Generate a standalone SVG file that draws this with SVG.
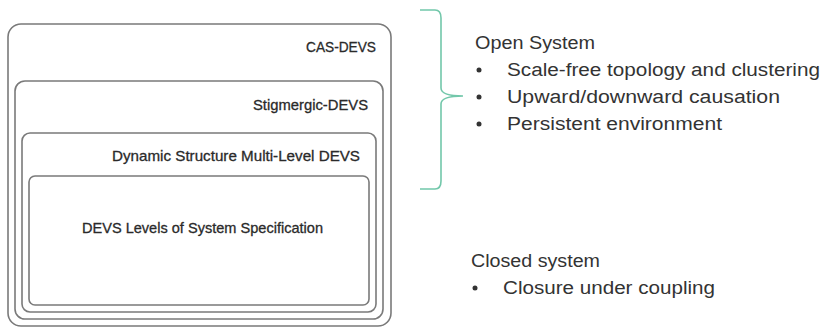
<svg xmlns="http://www.w3.org/2000/svg" width="826" height="330" viewBox="0 0 826 330">
<style>
.box{fill:none;stroke:#7a7a7a;stroke-width:1.6}
.lbl{font-family:"Liberation Sans",Arial,sans-serif;font-size:15px;fill:#2a2a2a;stroke:#2a2a2a;stroke-width:0.3}
.txt{font-family:"Liberation Sans",Arial,sans-serif;font-size:18px;fill:#333}
.brace{fill:none;stroke:#72c7aa;stroke-width:1.6}
.dot{fill:#333}
</style>
<rect width="826" height="330" fill="#fff"/>
<g id="cas-devs">
<rect class="box" x="8" y="24" width="383" height="302" rx="13"/>
<text class="lbl" x="306" y="52" textLength="70" lengthAdjust="spacingAndGlyphs">CAS-DEVS</text>
</g>
<g id="stigmergic-devs">
<rect class="box" x="15" y="81" width="368" height="238" rx="10"/>
<text class="lbl" x="253" y="110" textLength="115" lengthAdjust="spacingAndGlyphs">Stigmergic-DEVS</text>
</g>
<g id="dsml-devs">
<rect class="box" x="22" y="133" width="354" height="179" rx="8"/>
<text class="lbl" x="112" y="161" textLength="248" lengthAdjust="spacingAndGlyphs">Dynamic Structure Multi-Level DEVS</text>
</g>
<g id="devs-levels">
<rect class="box" x="29" y="176" width="340" height="129" rx="6"/>
<text class="lbl" x="82" y="233" textLength="241" lengthAdjust="spacingAndGlyphs">DEVS Levels of System Specification</text>
</g>
<g id="connectors">
<path class="brace" d="M420,10 L435,10 Q441,10 441,18 L441,88 Q441,96 463,96 Q441,96 441,104 L441,181 Q441,189 435,189 L420,189"/>
</g>
<g id="open-system">
<text class="txt" x="475" y="49" textLength="120" lengthAdjust="spacingAndGlyphs">Open System</text>
<circle class="dot" cx="479" cy="70" r="2.5"/>
<text class="txt" x="507" y="76" textLength="313" lengthAdjust="spacingAndGlyphs">Scale-free topology and clustering</text>
<circle class="dot" cx="479" cy="97" r="2.5"/>
<text class="txt" x="507" y="103" textLength="273" lengthAdjust="spacingAndGlyphs">Upward/downward causation</text>
<circle class="dot" cx="479" cy="124" r="2.5"/>
<text class="txt" x="507" y="130" textLength="215" lengthAdjust="spacingAndGlyphs">Persistent environment</text>
</g>
<g id="closed-system">
<text class="txt" x="471" y="267" textLength="129" lengthAdjust="spacingAndGlyphs">Closed system</text>
<circle class="dot" cx="475" cy="288" r="2.5"/>
<text class="txt" x="503" y="294" textLength="212" lengthAdjust="spacingAndGlyphs">Closure under coupling</text>
</g>
</svg>
